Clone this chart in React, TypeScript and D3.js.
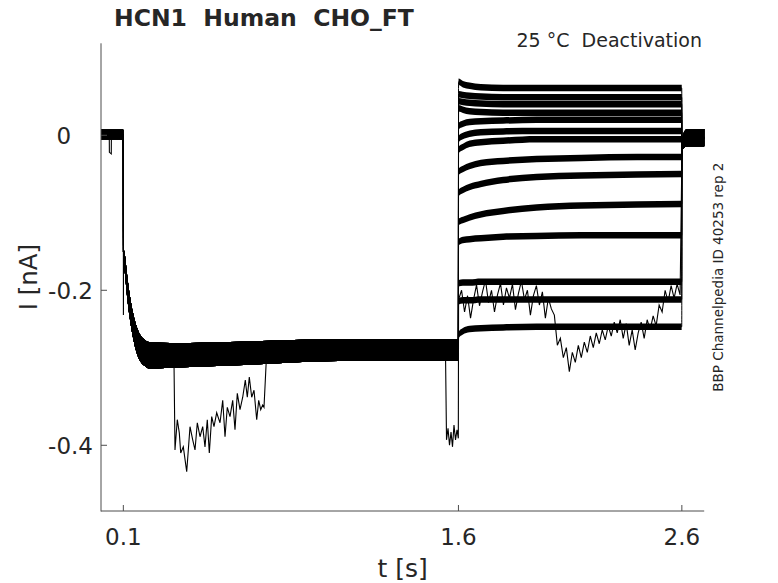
import React from 'react';
import * as d3 from 'd3';

// ---- axes / labels ----
const xDomain = [0, 2.7];
const yDomain = [-0.4848, 0.1187];
const xTicks = [0.1, 1.6, 2.6];
const xTickLabels = ['0.1', '1.6', '2.6'];
const yTicks = [0, -0.2, -0.4];
const yTickLabels = ['0', '-0.2', '-0.4'];
const titleText = 'HCN1  Human  CHO_FT';
const conditionText = '25 °C  Deactivation';
const sourceText = 'BBP Channelpedia ID 40253 rep 2';
const xLabel = 't [s]';
const yLabel = 'I [nA]';

// ---- shared holding + activation phase (all sweeps) ----
const actT = [0, 0.0995, 0.1005, 0.1074, 0.1164, 0.1298, 0.1432, 0.1598, 0.1746, 0.197, 0.219, 0.309, 0.667, 1.115, 1.5995];
const actI = [0.001, 0.001, -0.15, -0.167, -0.193, -0.223, -0.245, -0.264, -0.274, -0.281, -0.284, -0.284, -0.281, -0.277, -0.277];
const actNoise = [0.006, 0.006, 0.008, 0.012, 0.014, 0.015, 0.016, 0.017, 0.017, 0.017, 0.017, 0.016, 0.015, 0.014, 0.014];

// ---- deactivation phase, one row per sweep ----
const deactT = [1.6005, 1.62, 1.65, 1.7, 1.8, 1.95, 2.15, 2.4, 2.5995];
const deactNoise = 0.0042;
const sweep1 = [0.069, 0.066, 0.064, 0.062, 0.061, 0.061, 0.061, 0.061, 0.061];
const sweep2 = [0.053, 0.052, 0.051, 0.05, 0.049, 0.049, 0.049, 0.049, 0.049];
const sweep3 = [0.044, 0.043, 0.042, 0.041, 0.04, 0.04, 0.04, 0.04, 0.04];
const sweep4 = [0.035, 0.033, 0.031, 0.03, 0.029, 0.029, 0.029, 0.029, 0.029];
const sweep5 = [0.012, 0.015, 0.017, 0.018, 0.019, 0.02, 0.02, 0.02, 0.02];
const sweep6 = [-0.005, -0.001, 0.002, 0.004, 0.005, 0.0055, 0.0055, 0.0055, 0.0055];
const sweep7 = [-0.019, -0.015, -0.011, -0.009, -0.007, -0.005, -0.005, -0.005, -0.005];
const sweep8 = [-0.047, -0.0435, -0.0396, -0.0357, -0.0331, -0.0306, -0.0293, -0.028, -0.028];
const sweep9 = [-0.0744, -0.0706, -0.0667, -0.0628, -0.0577, -0.0538, -0.0519, -0.0506, -0.0499];
const sweep10 = [-0.1118, -0.1093, -0.1061, -0.1022, -0.0977, -0.0931, -0.0906, -0.0893, -0.0886];
const sweep11 = [-0.138, -0.135, -0.134, -0.133, -0.131, -0.13, -0.129, -0.129, -0.129];
const sweep12 = [-0.191, -0.19, -0.19, -0.189, -0.189, -0.189, -0.189, -0.189, -0.189];
const sweep13 = [-0.214, -0.213, -0.213, -0.212, -0.212, -0.212, -0.212, -0.212, -0.212];
const sweep14 = [-0.258, -0.253, -0.25, -0.249, -0.248, -0.247, -0.247, -0.247, -0.247];
const sweeps = [sweep1, sweep2, sweep3, sweep4, sweep5, sweep6, sweep7, sweep8, sweep9, sweep10, sweep11, sweep12, sweep13, sweep14];

// ---- return to holding after 2.6 s ----
const postT = [2.6005, 2.603, 2.61, 2.625, 2.7];
const postI = [-0.02, -0.012, -0.006, -0.003, -0.003];
const postNoise = [0.006, 0.008, 0.01, 0.011, 0.011];

// ---- unstable sweep: excursions ----
const noisyHoldDip: [number, number][] = [[0.037, 0.001], [0.0375, -0.022], [0.046, -0.024], [0.0465, 0.001]];
const noisyStepSpike: [number, number][] = [[0.1, 0.0], [0.1003, -0.232], [0.1008, -0.158]];
const noisyActDip: [number, number][] = [
  [0.3268, -0.294], [0.3312, -0.406], [0.3415, -0.367], [0.3505, -0.384], [0.3568, -0.41], [0.3684, -0.402],
  [0.3836, -0.434], [0.3908, -0.406], [0.3984, -0.376], [0.4105, -0.393], [0.4208, -0.406], [0.4311, -0.371],
  [0.4432, -0.389], [0.4552, -0.376], [0.4655, -0.402], [0.4758, -0.367], [0.4848, -0.41], [0.4955, -0.363],
  [0.5058, -0.376], [0.5179, -0.358], [0.5327, -0.371], [0.5448, -0.342], [0.5551, -0.389], [0.5653, -0.351],
  [0.5774, -0.363], [0.5895, -0.342], [0.5998, -0.38], [0.6101, -0.333], [0.6222, -0.354], [0.6343, -0.338],
  [0.6459, -0.316], [0.6549, -0.338], [0.6638, -0.312], [0.6746, -0.338], [0.6849, -0.329], [0.697, -0.367],
  [0.7059, -0.342], [0.7149, -0.354], [0.7238, -0.348], [0.7296, -0.351], [0.7355, -0.316], [0.7399, -0.29],
];
const noisyPreStepDip: [number, number][] = [
  [1.542, -0.28], [1.5466, -0.393], [1.5533, -0.378], [1.56, -0.4], [1.5667, -0.383], [1.5734, -0.402],
  [1.58, -0.374], [1.5869, -0.393], [1.5935, -0.38], [1.5994, -0.391],
];
const noisyDeactStart = 1.6005;
const noisyDeactDt = 0.0134;
const noisyDeactI = [
  -0.212, -0.2, -0.228, -0.207, -0.236, -0.212, -0.193, -0.22, -0.202, -0.187,
  -0.216, -0.2, -0.228, -0.206, -0.191, -0.219, -0.197, -0.21, -0.192, -0.225,
  -0.204, -0.188, -0.212, -0.2, -0.232, -0.207, -0.194, -0.219, -0.202, -0.236,
  -0.21, -0.224, -0.232, -0.271, -0.262, -0.287, -0.274, -0.305, -0.28, -0.293,
  -0.271, -0.287, -0.267, -0.28, -0.259, -0.274, -0.255, -0.269, -0.251, -0.264,
  -0.246, -0.259, -0.241, -0.255, -0.238, -0.262, -0.243, -0.271, -0.251, -0.277,
  -0.255, -0.241, -0.262, -0.238, -0.251, -0.233, -0.246, -0.219, -0.228, -0.2,
  -0.215, -0.194, -0.21, -0.192, -0.206,
];

type P = { t: number; i: number; n: number };

export default function App() {
  const W = 778, H = 583;
  const x = d3.scaleLinear().domain(xDomain).range([101, 704.2]);
  const y = d3.scaleLinear().domain(yDomain).range([511, 43.3]);
  const textColor = '#262626';
  const axisColor = '#4d4d4d';
  const font = 'DejaVu Sans, sans-serif';

  const buildSweep = (deact: number[]): P[] => {
    const pts: P[] = [];
    actT.forEach((t, k) => pts.push({ t, i: actI[k], n: actNoise[k] }));
    deactT.forEach((t, k) => pts.push({ t, i: deact[k], n: deactNoise }));
    postT.forEach((t, k) => pts.push({ t, i: postI[k], n: postNoise[k] }));
    return pts;
  };

  const line = d3.line<P>().x(d => x(d.t)).y(d => y(d.i)).curve(d3.curveMonotoneX);
  const area = d3.area<P>().x(d => x(d.t)).y0(d => y(d.i - d.n)).y1(d => y(d.i + d.n)).curve(d3.curveMonotoneX);

  const sweepPts = sweeps.map(buildSweep);

  // unstable sweep path
  const noisy: [number, number][] = [];
  noisy.push([0, 0.001], ...noisyHoldDip, [0.0995, 0.001], ...noisyStepSpike);
  actT.forEach((t, k) => { if (t > 0.1008 && t < 0.3268) noisy.push([t, actI[k]]); });
  noisy.push(...noisyActDip);
  actT.forEach((t, k) => { if (t > 0.7399 && t < 1.542) noisy.push([t, actI[k]]); });
  noisy.push(...noisyPreStepDip);
  noisyDeactI.forEach((v, k) => noisy.push([noisyDeactStart + k * noisyDeactDt, v]));
  postT.forEach((t, k) => noisy.push([t, postI[k]]));
  const noisyLine = d3.line<[number, number]>().x(d => x(d[0])).y(d => y(d[1]));

  const [x0, x1] = x.range();
  const [yb, yt] = y.range();

  return (
    <svg width={W} height={H} style={{ position: 'absolute', left: 0, top: 0, background: '#fff' }}>
      <rect x={0} y={0} width={W} height={H} fill="#fff" />
      {/* traces */}
      <g>
        {sweepPts.map((pts, k) => (
          <path key={'a' + k} d={area(pts) || ''} fill="#000" stroke="none" />
        ))}
        {sweepPts.map((pts, k) => (
          <path key={'l' + k} d={line(pts) || ''} fill="none" stroke="#000" strokeWidth={1} />
        ))}
        <path d={noisyLine(noisy) || ''} fill="none" stroke="#000" strokeWidth={1.1} />
      </g>
      {/* axes */}
      <g stroke={axisColor} strokeWidth={1} fill="none">
        <line x1={x0} x2={x0} y1={yt} y2={yb + 0.5} />
        <line x1={x0} x2={x1} y1={yb} y2={yb} />
        {xTicks.map((t, k) => (
          <line key={'xt' + k} x1={x(t)} x2={x(t)} y1={yb} y2={yb - 6} />
        ))}
        {yTicks.map((v, k) => (
          <line key={'yt' + k} x1={x0} x2={x0 + 6} y1={y(v)} y2={y(v)} />
        ))}
      </g>
      <g fill={textColor} fontFamily={font}>
        {xTicks.map((t, k) => (
          <text key={'xl' + k} x={x(t)} y={545} fontSize={23} textAnchor="middle">{xTickLabels[k]}</text>
        ))}
        {yTicks.map((v, k) => (
          <text key={'yl' + k} x={93} y={y(v)} dy="0.36em" dx={yTickLabels[k].includes('.') ? 0 : '-0.954em'} fontSize={23} textAnchor="end">{yTickLabels[k]}</text>
        ))}
        <text x={(x0 + x1) / 2} y={577} fontSize={25} textAnchor="middle">{xLabel}</text>
        <text transform={`translate(37,${(yt + yb) / 2}) rotate(-90)`} fontSize={24.5} textAnchor="middle">{yLabel}</text>
        <text x={114} y={26} fontSize={23.5} fontWeight="bold" style={{ whiteSpace: 'pre' }}>{titleText}</text>
        <text x={702} y={47} fontSize={19} textAnchor="end" style={{ whiteSpace: 'pre' }}>{conditionText}</text>
        <text transform={`translate(723,${(yt + yb) / 2}) rotate(-90)`} fontSize={13.5} textAnchor="middle">{sourceText}</text>
      </g>
    </svg>
  );
}
